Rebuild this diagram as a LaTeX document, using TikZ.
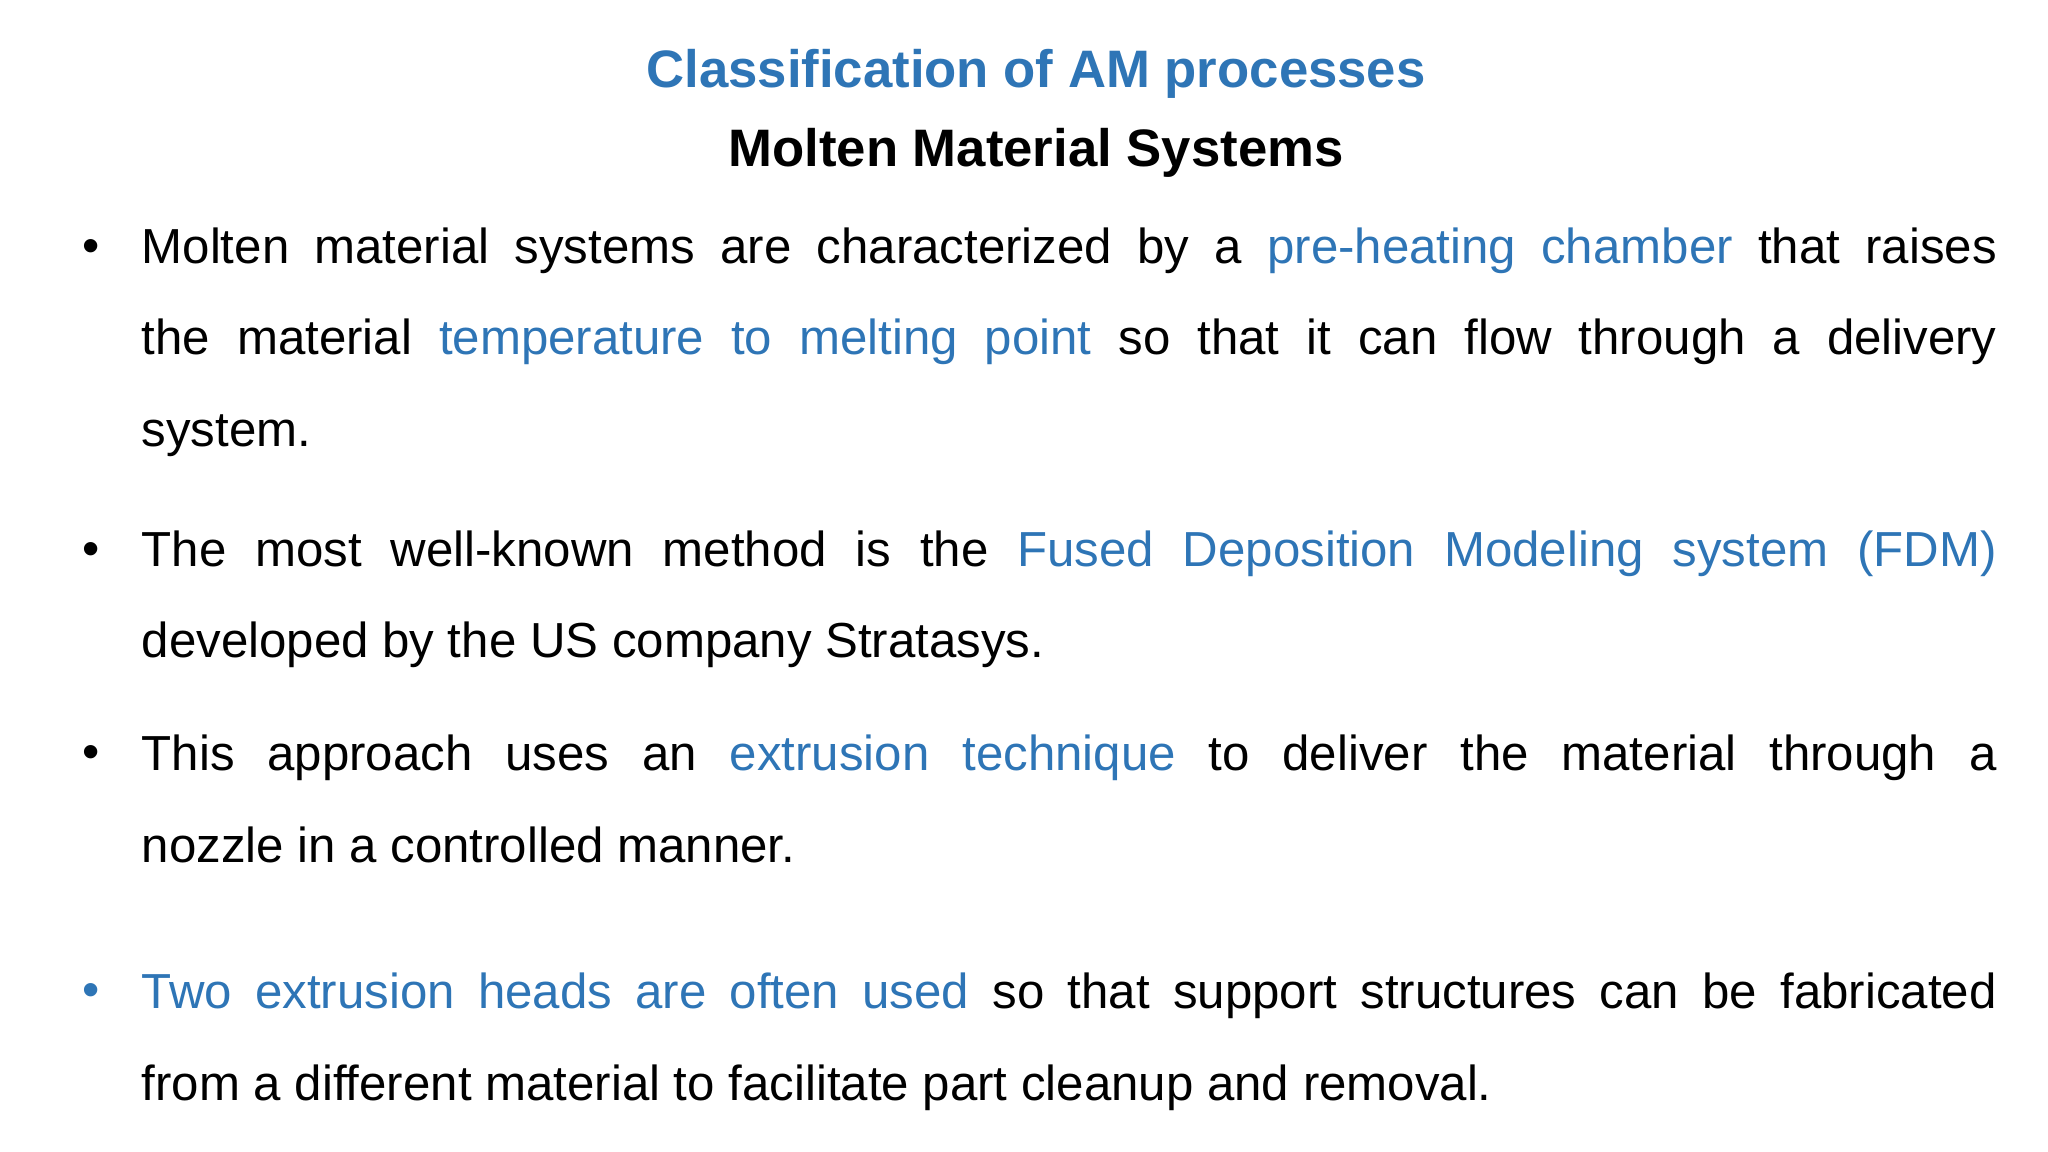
\documentclass[tikz,border=0pt]{standalone}
\usepackage{fontspec}
\setmainfont{Liberation Sans}
\definecolor{hl}{RGB}{46,117,182}
\newcommand{\hb}[1]{\textcolor{hl}{#1}}
\begin{document}
\begin{tikzpicture}[
  txt/.style={anchor=west,inner sep=0pt,font=\fontsize{14}{16}\selectfont,text height=0.36cm,text depth=0.1cm},
  bul/.style={anchor=center,inner sep=0pt,font=\fontsize{14}{16}\selectfont}]
\useasboundingbox (0,0) rectangle (20.48,-11.52);
\fill[white] (0,0) rectangle (20.48,-11.52);
\node[font=\fontsize{15}{18}\selectfont\bfseries,text=hl] (t1) at (10.36,-0.74) {Classification of AM processes};
\node[font=\fontsize{15}{18}\selectfont\bfseries] (t2) at (10.36,-1.53) {Molten Material Systems};
\def\W{18.55cm}
\node[bul] (b1) at (0.91,-2.51) {•};
\node[txt] (l1) at (1.41,-2.51) {\makebox[\W][s]{Molten material systems are characterized by a \hb{pre-heating chamber} that raises}};
\node[txt] (l2) at (1.41,-3.42) {\makebox[\W][s]{the material \hb{temperature to melting point} so that it can flow through a delivery}};
\node[txt] (l3) at (1.41,-4.34) {system.};
\node[bul] (b2) at (0.91,-5.54) {•};
\node[txt] (l4) at (1.41,-5.54) {\makebox[\W][s]{The most well-known method is the \hb{Fused Deposition Modeling system (FDM)}}};
\node[txt] (l5) at (1.41,-6.45) {developed by the US company Stratasys.};
\node[bul] (b3) at (0.91,-7.57) {•};
\node[txt] (l6) at (1.41,-7.57) {\makebox[\W][s]{This approach uses an \hb{extrusion technique} to deliver the material through a}};
\node[txt] (l7) at (1.41,-8.49) {nozzle in a controlled manner.};
\node[bul,text=hl] (b4) at (0.91,-9.95) {•};
\node[txt] (l8) at (1.41,-9.95) {\makebox[\W][s]{\hb{Two extrusion heads are often used} so that support structures can be fabricated}};
\node[txt] (l9) at (1.41,-10.87) {from a different material to facilitate part cleanup and removal.};
\end{tikzpicture}
\end{document}
